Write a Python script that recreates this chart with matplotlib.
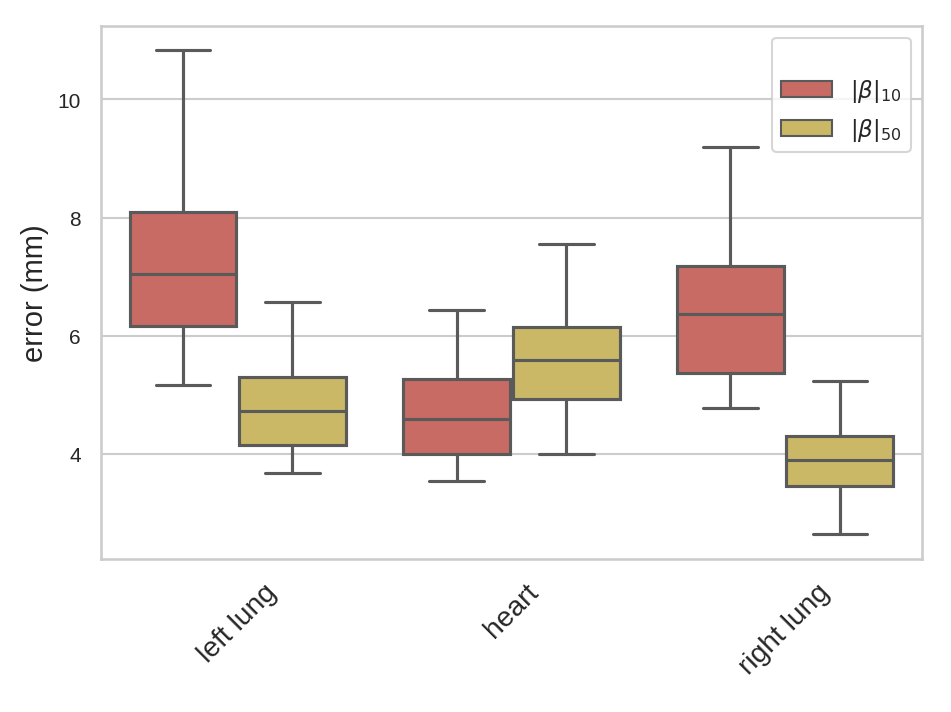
import numpy as np
import matplotlib.pyplot as plt
import seaborn as sns

sns.set_theme(style="whitegrid")
plt.rcParams['font.family'] = ['Liberation Sans', 'DejaVu Sans']

# organs on x axis and the two settings
organs = ["left lung", "heart", "right lung"]
series = [r"$|\beta|_{10}$", r"$|\beta|_{50}$"]

# box summaries: (whislo, q1, med, q3, whishi)
beta10 = [(5.17, 6.16, 7.05, 8.09, 10.84),
          (3.54, 4.00, 4.59, 5.26, 6.44),
          (4.78, 5.36, 6.37, 7.18, 9.19)]
beta50 = [(3.68, 4.15, 4.73, 5.30, 6.57),
          (4.00, 4.92, 5.59, 6.15, 7.55),
          (2.64, 3.46, 3.90, 4.31, 5.24)]

colors = ["#c96b65", "#cab866"]
line_col = "#5a5a5a"

fig = plt.figure(figsize=(6.34, 4.753), dpi=150)
ax = fig.add_axes([0.106, 0.2146, 0.8635, 0.7475])

x = np.arange(len(organs))
offs = [-0.2, 0.2]
for k, data in enumerate([beta10, beta50]):
    stats = []
    for lo, q1, med, q3, hi in data:
        stats.append(dict(whislo=lo, q1=q1, med=med, q3=q3, whishi=hi, fliers=[]))
    ax.bxp(stats, positions=x + offs[k], widths=0.39, capwidths=0.2,
           patch_artist=True, showfliers=False, manage_ticks=False,
           boxprops=dict(facecolor=colors[k], edgecolor=line_col, linewidth=1.5),
           medianprops=dict(color=line_col, linewidth=1.5),
           whiskerprops=dict(color=line_col, linewidth=1.5),
           capprops=dict(color=line_col, linewidth=1.5))
    ax.bar(0, 0, color=colors[k], edgecolor=line_col, label=series[k])

ax.set_xlim(-0.5, 2.5)
ax.set_ylim(2.22, 11.24)
ax.set_xticks(x)
ax.set_xticklabels(organs, rotation=45, fontsize=13.5)
ax.set_yticks([4, 6, 8, 10])
ax.tick_params(axis='y', labelsize=10)
ax.set_ylabel("error (mm)", fontsize=14)
ax.grid(axis='x', visible=False)
ax.legend(title=" ", title_fontsize=10, loc="upper right", fontsize=11,
          handlelength=2.2)

fig.savefig("out.png", dpi=150)
